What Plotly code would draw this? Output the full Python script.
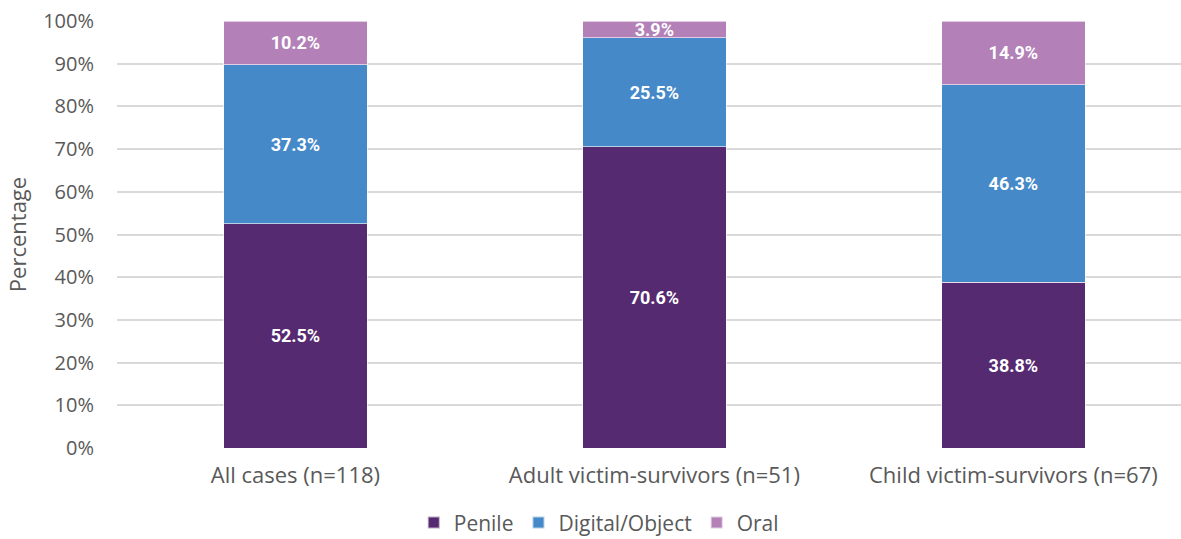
import plotly.graph_objects as go

categories = ["All cases (n=118)", "Adult victim-survivors (n=51)", "Child victim-survivors (n=67)"]
penile = [52.5, 70.6, 38.8]
digital_object = [37.3, 25.5, 46.3]
oral = [10.2, 3.9, 14.9]
y_ticks = [0, 10, 20, 30, 40, 50, 60, 70, 80, 90, 100]

series = [
    ("Penile", penile, "#552A71"),
    ("Digital/Object", digital_object, "#4589C8"),
    ("Oral", oral, "#B381B8"),
]

fig = go.Figure()
for name, vals, color in series:
    fig.add_trace(go.Bar(
        name=name,
        x=categories,
        y=vals,
        marker=dict(color=color, line=dict(color="rgba(255,255,255,0.6)", width=1)),
        text=[f"{v:.1f}%" for v in vals],
        textposition="inside",
        insidetextanchor="middle",
        textangle=0,
        constraintext="none",
        textfont=dict(family="Roboto", size=18, color="white", weight="bold"),
        hoverinfo="skip",
    ))

fig.update_layout(
    barmode="stack",
    bargap=0.6,
    width=1181,
    height=539,
    margin=dict(l=117, r=0, t=21, b=91),
    paper_bgcolor="white",
    plot_bgcolor="white",
    showlegend=True,
    legend=dict(
        orientation="h",
        xref="container", yref="container",
        x=0.507, xanchor="center",
        y=0.03, yanchor="middle",
        font=dict(family="Open Sans", size=21, color="#595959"),
        itemsizing="constant",
        traceorder="normal",
    ),
    xaxis=dict(
        range=[-0.497, 2.467],
        showgrid=False,
        ticks="outside",
        ticklen=8,
        tickcolor="rgba(0,0,0,0)",
        tickfont=dict(family="Open Sans", size=22, color="#595959"),
        showline=False,
    ),
    yaxis=dict(
        range=[0, 100],
        tickvals=y_ticks,
        ticktext=[f"{t}%" for t in y_ticks],
        showgrid=True,
        gridcolor="#D9D9D9",
        gridwidth=1.5,
        zeroline=False,
        tickfont=dict(family="Open Sans", size=20, color="#595959"),
        ticks="outside",
        ticklen=18,
        tickcolor="rgba(0,0,0,0)",
        title=dict(text="Percentage", font=dict(family="Open Sans", size=22, color="#595959"), standoff=10),
    ),
)

fig.write_html("out.html")
